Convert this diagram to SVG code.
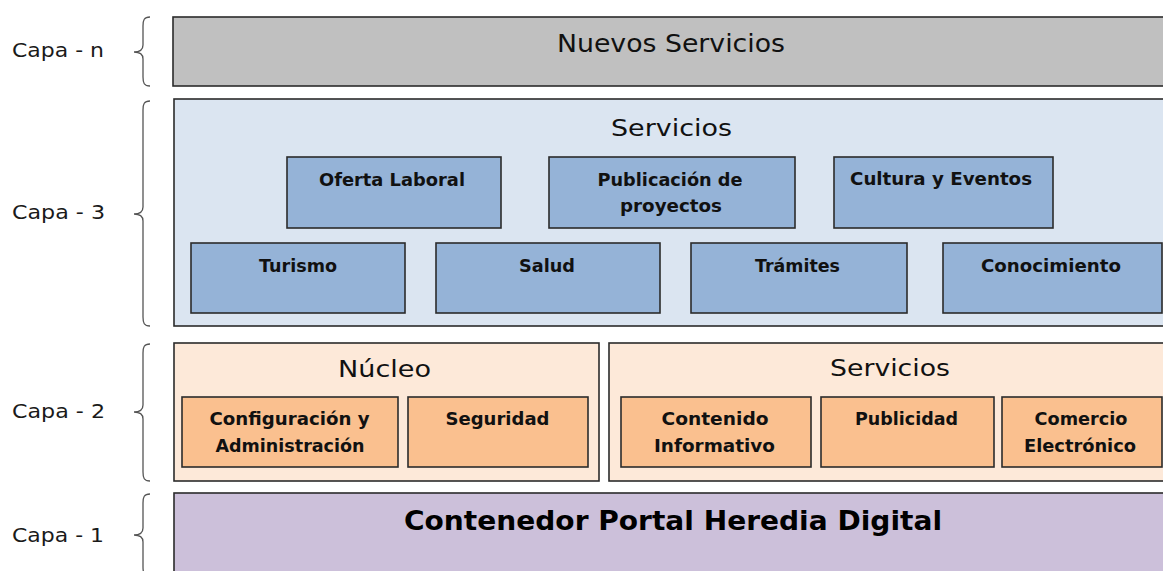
<svg xmlns="http://www.w3.org/2000/svg" width="1163" height="571" viewBox="0 0 1163 571">
<style>
.bg{fill:#ffffff}
.box{stroke:#2b2b2b;stroke-width:1.6}
.ln{fill:#c0c0c0}
.l3{fill:#dbe5f1}
.b3{fill:#95b3d7}
.l2{fill:#fde9d9}
.b2{fill:#fac08f}
.l1{fill:#ccc0da}
.brace{fill:none;stroke:#555555;stroke-width:1.3}
.cap{font-family:"DejaVu Sans",Verdana,sans-serif;font-size:20px;fill:#1a1a1a}
.title{font-family:"DejaVu Sans",Verdana,sans-serif;font-size:23px;fill:#111111;text-anchor:middle}
.big{font-size:25px}
.lbl{font-family:"DejaVu Sans",Verdana,sans-serif;font-size:18.5px;font-weight:bold;fill:#111111;text-anchor:middle}
.main{font-family:"DejaVu Sans",Verdana,sans-serif;font-size:27px;font-weight:bold;fill:#000000;text-anchor:middle}
</style>
<rect class="bg" x="0" y="0" width="1163" height="571"/>

<g id="capa-labels">
<text class="cap" x="12" y="57" textLength="92" lengthAdjust="spacingAndGlyphs">Capa - n</text>
<text class="cap" x="12" y="219" textLength="93" lengthAdjust="spacingAndGlyphs">Capa - 3</text>
<text class="cap" x="12" y="418" textLength="93" lengthAdjust="spacingAndGlyphs">Capa - 2</text>
<text class="cap" x="12" y="542" textLength="92" lengthAdjust="spacingAndGlyphs">Capa - 1</text>
</g>

<g id="braces">
<path class="brace" d="M150,17 C144,17 143,20 143,26 L143,45 C143,50 140,52 134,52 C140,52 143,54 143,59 L143,77 C143,83 144,86 150,86"/>
<path class="brace" d="M150,101 C144,101 143,104 143,110 L143,207 C143,212 140,214 134,214 C140,214 143,216 143,221 L143,317 C143,323 144,326 150,326"/>
<path class="brace" d="M150,344 C144,344 143,347 143,353 L143,405 C143,410 140,412 134,412 C140,412 143,414 143,419 L143,472 C143,478 144,481 150,481"/>
<path class="brace" d="M150,494 C144,494 143,497 143,503 L143,528 C143,533 140,535 134,535 C140,535 143,537 143,542 L143,567 C143,573 144,576 150,576"/>
</g>

<g id="capa-n">
<rect class="box ln" x="173" y="17" width="1000" height="69"/>
<text class="title big" x="671" y="52" textLength="228" lengthAdjust="spacingAndGlyphs">Nuevos Servicios</text>
</g>

<g id="capa-3">
<rect class="box l3" x="174" y="99" width="1000" height="227"/>
<text class="title" x="671.5" y="136" textLength="121" lengthAdjust="spacingAndGlyphs">Servicios</text>
</g>
<g id="oferta-laboral">
<rect class="box b3" x="287" y="157" width="214" height="71"/>
<text class="lbl" x="392" y="186" textLength="146" lengthAdjust="spacingAndGlyphs">Oferta Laboral</text>
</g>
<g id="publicacion-proyectos">
<rect class="box b3" x="549" y="157" width="246" height="71"/>
<text class="lbl" x="670" y="186" textLength="145" lengthAdjust="spacingAndGlyphs">Publicación de</text>
<text class="lbl" x="671" y="212" textLength="102" lengthAdjust="spacingAndGlyphs">proyectos</text>
</g>
<g id="cultura-eventos">
<rect class="box b3" x="834" y="157" width="219" height="71"/>
<text class="lbl" x="941" y="185" textLength="182" lengthAdjust="spacingAndGlyphs">Cultura y Eventos</text>
</g>
<g id="turismo">
<rect class="box b3" x="191" y="243" width="214" height="70"/>
<text class="lbl" x="298" y="272" textLength="78" lengthAdjust="spacingAndGlyphs">Turismo</text>
</g>
<g id="salud">
<rect class="box b3" x="436" y="243" width="224" height="70"/>
<text class="lbl" x="547" y="272" textLength="56" lengthAdjust="spacingAndGlyphs">Salud</text>
</g>
<g id="tramites">
<rect class="box b3" x="691" y="243" width="216" height="70"/>
<text class="lbl" x="797.5" y="272" textLength="85" lengthAdjust="spacingAndGlyphs">Trámites</text>
</g>
<g id="conocimiento">
<rect class="box b3" x="943" y="243" width="219" height="70"/>
<text class="lbl" x="1051" y="272" textLength="140" lengthAdjust="spacingAndGlyphs">Conocimiento</text>
</g>

<g id="nucleo">
<rect class="box l2" x="174" y="343" width="425" height="138"/>
<text class="title" x="384.5" y="377" textLength="93" lengthAdjust="spacingAndGlyphs">Núcleo</text>
</g>
<g id="configuracion">
<rect class="box b2" x="182" y="397" width="216" height="70"/>
<text class="lbl" x="289.5" y="425" textLength="160" lengthAdjust="spacingAndGlyphs">Configuración y</text>
<text class="lbl" x="290" y="452" textLength="149" lengthAdjust="spacingAndGlyphs">Administración</text>
</g>
<g id="seguridad">
<rect class="box b2" x="408" y="397" width="180" height="70"/>
<text class="lbl" x="497.5" y="425" textLength="104" lengthAdjust="spacingAndGlyphs">Seguridad</text>
</g>
<g id="servicios-2">
<rect class="box l2" x="609" y="343" width="565" height="138"/>
<text class="title" x="890" y="376" textLength="120" lengthAdjust="spacingAndGlyphs">Servicios</text>
</g>
<g id="contenido">
<rect class="box b2" x="621" y="397" width="190" height="70"/>
<text class="lbl" x="715" y="425" textLength="107" lengthAdjust="spacingAndGlyphs">Contenido</text>
<text class="lbl" x="714.5" y="452" textLength="121" lengthAdjust="spacingAndGlyphs">Informativo</text>
</g>
<g id="publicidad">
<rect class="box b2" x="821" y="397" width="173" height="70"/>
<text class="lbl" x="906.5" y="425" textLength="103" lengthAdjust="spacingAndGlyphs">Publicidad</text>
</g>
<g id="comercio">
<rect class="box b2" x="1002" y="397" width="160" height="70"/>
<text class="lbl" x="1081" y="425" textLength="93" lengthAdjust="spacingAndGlyphs">Comercio</text>
<text class="lbl" x="1080" y="452" textLength="112" lengthAdjust="spacingAndGlyphs">Electrónico</text>
</g>

<g id="capa-1">
<rect class="box l1" x="174" y="493" width="1000" height="100"/>
<text class="main" x="673" y="530" textLength="538" lengthAdjust="spacingAndGlyphs">Contenedor Portal Heredia Digital</text>
</g>

<g id="connectors"></g>
</svg>
